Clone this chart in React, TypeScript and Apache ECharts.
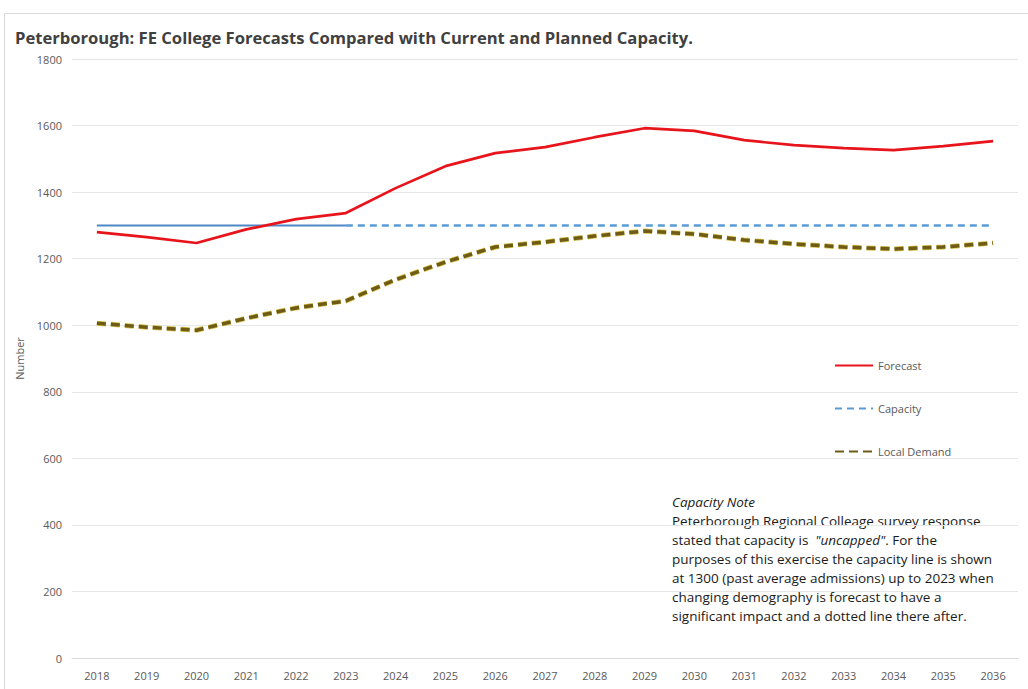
import React, { useEffect, useRef } from "react";
import * as echarts from "echarts";

const years = ["2018","2019","2020","2021","2022","2023","2024","2025","2026","2027","2028","2029","2030","2031","2032","2033","2034","2035","2036"];
const forecast = [1280,1265,1247,1288,1319,1337,1412,1478,1517,1535,1565,1592,1584,1556,1541,1532,1526,1538,1553];
const localDemand = [1006,994,985,1021,1052,1073,1137,1190,1235,1250,1268,1283,1274,1256,1244,1235,1229,1235,1247];
const capacityCurrent = [1300,1300,1300,1300,1300,1300,null,null,null,null,null,null,null,null,null,null,null,null,null];
const capacityPlanned = [null,null,null,null,null,1300,1300,1300,1300,1300,1300,1300,1300,1300,1300,1300,1300,1300,1300];
const legendItems = ["Forecast", "Capacity", "Local Demand"];

const FONT = "'Open Sans', 'Noto Sans', sans-serif";

export default function App() {
  const ref = useRef<HTMLDivElement>(null);
  useEffect(() => {
    if (!ref.current) return;
    const chart = echarts.init(ref.current, null, { renderer: "svg" });
    chart.setOption({
      animation: false,
      backgroundColor: "#ffffff",
      textStyle: { fontFamily: FONT },
      title: {
        text: "Peterborough: FE College Forecasts Compared with Current and Planned Capacity.",
        left: 10,
        top: 24,
        textStyle: { fontSize: 16.6, fontWeight: "bold", color: "#404040", fontFamily: FONT },
      },
      grid: { left: 72, right: 10, top: 59, bottom: 31, containLabel: false },
      legend: {
        orient: "vertical",
        left: 829,
        top: 355,
        itemWidth: 38,
        itemHeight: 12,
        itemGap: 32,
        data: legendItems,
        itemStyle: { opacity: 0 },
        textStyle: { fontSize: 11, color: "#595959", fontFamily: FONT },
      },
      xAxis: {
        type: "category",
        data: years,
        boundaryGap: true,
        axisLine: { show: true, lineStyle: { color: "#d9d9d9" } },
        axisTick: { show: false },
        axisLabel: { fontSize: 11, color: "#595959", margin: 12 },
      },
      yAxis: {
        type: "value",
        min: 0,
        max: 1800,
        interval: 200,
        name: "Number",
        nameLocation: "middle",
        nameGap: 47,
        nameTextStyle: { fontSize: 11, color: "#595959" },
        axisLine: { show: false },
        axisTick: { show: false },
        axisLabel: { fontSize: 11, color: "#595959", margin: 10, formatter: (v: number) => String(v) },
        splitLine: { lineStyle: { color: "#e6e6e6", width: 1 } },
      },
      series: [
        {
          name: "Forecast",
          type: "line",
          data: forecast,
          symbol: "none",
          lineStyle: { color: "#e8141c", width: 2.7 },
          itemStyle: { color: "#e8141c" },
          z: 5,
        },
        {
          name: "Capacity (current)",
          type: "line",
          data: capacityCurrent,
          symbol: "none",
          lineStyle: { color: "#4f88c6", width: 2 },
          itemStyle: { color: "#4f88c6" },
          z: 3,
        },
        {
          name: "Capacity",
          type: "line",
          data: capacityPlanned,
          symbol: "none",
          lineStyle: { color: "#5b9bd5", width: 2.5, type: [7, 5] },
          itemStyle: { color: "#5b9bd5" },
          z: 3,
        },
        {
          name: "Local Demand Outline",
          type: "line",
          data: localDemand,
          symbol: "none",
          lineStyle: { color: "#d6c24a", width: 5, type: [9, 5] },
          itemStyle: { color: "#d6c24a" },
          z: 2,
          silent: true,
        },
        {
          name: "Local Demand",
          type: "line",
          data: localDemand,
          symbol: "none",
          lineStyle: { color: "#6e5c16", width: 3.5, type: [9, 5] },
          itemStyle: { color: "#6e5c16" },
          z: 4,
        },
      ],
      graphic: [
        {
          type: "rect",
          left: 2,
          top: 11,
          shape: { width: 1040, height: 700 },
          style: { fill: "none", stroke: "#d9d9d9", lineWidth: 1 },
          silent: true,
          z: -1,
        },
        {
          type: "text",
          left: 672,
          top: 492,
          style: {
            text: "{i|Capacity Note}\nPeterborough Regional Colleage survey response\nstated that capacity is  {i|\"uncapped\"}. For the\npurposes of this exercise the capacity line is shown\nat 1300 (past average admissions) up to 2023 when\nchanging demography is forecast to have a\nsignificant impact and a dotted line there after.",
            font: `13.5px ${FONT}`,
            fill: "#1a1a1a",
            lineHeight: 19,
            rich: {
              i: { fontStyle: "italic", fontSize: 13.5, fontFamily: FONT, fill: "#1a1a1a", lineHeight: 19 },
            },
          },
        },
      ],
    });
    return () => chart.dispose();
  }, []);
  return (
    <div
      ref={ref}
      style={{ position: "fixed", left: 0, top: 0, width: 1028, height: 689 }}
    />
  );
}
